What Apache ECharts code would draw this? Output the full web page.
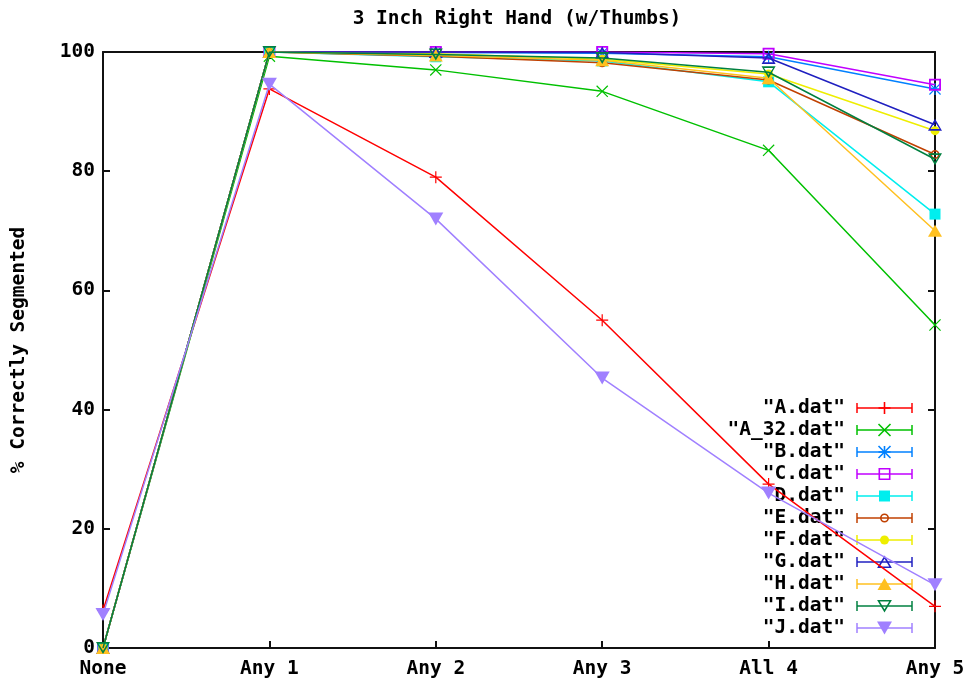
<!DOCTYPE html>
<html>
<head>
<meta charset="utf-8">
<script src="https://cdn.jsdelivr.net/npm/echarts@6/dist/echarts.min.js"></script>
<style>
  html, body { margin: 0; padding: 0; background: #fff; }
  #chart { width: 967px; height: 681px; }
</style>
</head>
<body>
<div id="chart"></div>
<script>
// Segmentation accuracy per selection rule, one data file per series
const categories = ['None', 'Any 1', 'Any 2', 'Any 3', 'All 4', 'Any 5'];
const yTicks = [0, 20, 40, 60, 80, 100];

const seriesNames = ['"A.dat"', '"A_32.dat"', '"B.dat"', '"C.dat"', '"D.dat"', '"E.dat"',
                     '"F.dat"', '"G.dat"', '"H.dat"', '"I.dat"', '"J.dat"'];

const valuesA   = [6.3, 93.8, 79.0, 55.0, 27.5, 7.0];
const valuesA32 = [0, 99.3, 97.0, 93.4, 83.5, 54.2];
const valuesB   = [0, 100, 99.9, 99.8, 99.2, 93.8];
const valuesC   = [0, 100, 100, 100, 99.7, 94.5];
const valuesD   = [0, 100, 99.2, 98.5, 95.0, 72.8];
const valuesE   = [0, 100, 99.3, 98.2, 95.3, 82.8];
const valuesF   = [0, 100, 99.7, 98.8, 96.3, 86.8];
const valuesG   = [0, 100, 100, 99.9, 99.0, 87.8];
const valuesH   = [0, 100, 99.4, 98.6, 95.6, 70.0];
const valuesI   = [0, 100, 99.6, 99.0, 96.6, 82.0];
const valuesJ   = [5.6, 94.6, 72.0, 45.3, 26.0, 10.6];

const seriesValues = [valuesA, valuesA32, valuesB, valuesC, valuesD, valuesE,
                      valuesF, valuesG, valuesH, valuesI, valuesJ];

// gnuplot-like palette
const colors = ['#ff0000', '#00c000', '#0080ff', '#c000ff', '#00eeee', '#c04000',
                '#eeee00', '#2020c0', '#ffc020', '#008040', '#a080ff'];

// point shapes: plus, cross, star, open/filled square, open/filled circle,
// open/filled triangle, open/filled inverted triangle
const PATHS = {
  plus:  'M0 9H20V11H0Z M9 0H11V20H9Z',
  cross: 'M0 1.4L1.4 0L20 18.6L18.6 20Z M18.6 0L20 1.4L1.4 20L0 18.6Z',
  star:  'M0 9H20V11H0Z M9 0H11V20H9Z M0 1.4L1.4 0L20 18.6L18.6 20Z M18.6 0L20 1.4L1.4 20L0 18.6Z',
  boxO:  'M0 0H20V20H0Z M3 3V17H17V3Z',
  boxF:  'M0 0H20V20H0Z',
  circO: 'M0 10A10 10 0 1 0 20 10A10 10 0 1 0 0 10Z M3.5 10A6.5 6.5 0 1 1 16.5 10A6.5 6.5 0 1 1 3.5 10Z',
  circF: 'M0 10A10 10 0 1 0 20 10A10 10 0 1 0 0 10Z',
  triO:  'M10 0L20 18H0Z M10 5L3.5 15.5H16.5Z',
  triF:  'M10 0L20 18H0Z',
  itriO: 'M0 0H20L10 18Z M3.5 2.5L10 13L16.5 2.5Z',
  itriF: 'M0 0H20L10 18Z'
};
const shapeKeys = ['plus', 'cross', 'star', 'boxO', 'boxF', 'circO', 'circF', 'triO', 'triF', 'itriO', 'itriF'];
const symbolSizes = [[12, 12], [12, 12], [12, 12], [12, 12], [11, 11], [9, 9], [9, 9],
                     [14, 12], [14, 12], [14, 12], [15, 13]];

const FONT = 'DejaVu Sans Mono';
const FS = 19.5;
const GRID = { left: 103, right: 32, top: 52, bottom: 33, outerBoundsMode: 'none', containLabel: false };

const series = seriesNames.map((name, i) => ({
  name: name,
  type: 'line',
  data: seriesValues[i],
  symbol: 'path://' + PATHS[shapeKeys[i]],
  symbolSize: symbolSizes[i],
  showSymbol: true,
  showAllSymbol: true,
  xAxisIndex: 0,
  yAxisIndex: 0,
  itemStyle: { color: colors[i] },
  lineStyle: { color: colors[i], width: 1.5 },
  emphasis: { disabled: true },
  z: 2 + i
}));

// point shape for the key, built from plain graphic primitives
function keyMarker(key, cx, cy, w, h, color) {
  const hw = w / 2, hh = h / 2;
  const strokeOnly = { fill: 'none', stroke: color, lineWidth: 1.6 };
  const filled = { fill: color };
  const seg = (x1, y1, x2, y2) => ({
    type: 'line', silent: true, z: 1,
    shape: { x1: x1, y1: y1, x2: x2, y2: y2 }, style: { stroke: color, lineWidth: 1.6 }
  });
  switch (key) {
    case 'plus':  return [seg(cx - hw, cy, cx + hw, cy), seg(cx, cy - hh, cx, cy + hh)];
    case 'cross': return [seg(cx - hw, cy - hh, cx + hw, cy + hh), seg(cx - hw, cy + hh, cx + hw, cy - hh)];
    case 'star':  return [seg(cx - hw, cy, cx + hw, cy), seg(cx, cy - hh, cx, cy + hh),
                          seg(cx - hw, cy - hh, cx + hw, cy + hh), seg(cx - hw, cy + hh, cx + hw, cy - hh)];
    case 'boxO':  return [{ type: 'rect', silent: true, z: 1, shape: { x: cx - hw + 0.8, y: cy - hh + 0.8, width: w - 1.6, height: h - 1.6 }, style: strokeOnly }];
    case 'boxF':  return [{ type: 'rect', silent: true, z: 1, shape: { x: cx - hw, y: cy - hh, width: w, height: h }, style: filled }];
    case 'circO': return [{ type: 'circle', silent: true, z: 1, shape: { cx: cx, cy: cy, r: hw - 0.8 }, style: strokeOnly }];
    case 'circF': return [{ type: 'circle', silent: true, z: 1, shape: { cx: cx, cy: cy, r: hw }, style: filled }];
    case 'triO':  return [{ type: 'polygon', silent: true, z: 1, shape: { points: [[cx, cy - hh + 1], [cx + hw - 1, cy + hh - 0.8], [cx - hw + 1, cy + hh - 0.8]] }, style: strokeOnly }];
    case 'triF':  return [{ type: 'polygon', silent: true, z: 1, shape: { points: [[cx, cy - hh], [cx + hw, cy + hh], [cx - hw, cy + hh]] }, style: filled }];
    case 'itriO': return [{ type: 'polygon', silent: true, z: 1, shape: { points: [[cx - hw + 1, cy - hh + 0.8], [cx + hw - 1, cy - hh + 0.8], [cx, cy + hh - 1]] }, style: strokeOnly }];
    case 'itriF': return [{ type: 'polygon', silent: true, z: 1, shape: { points: [[cx - hw, cy - hh], [cx + hw, cy - hh], [cx, cy + hh]] }, style: filled }];
  }
  return [];
}

// key box: label, sample line with end caps, point shape
const keyTop = 408, keyRowGap = 22, keyTextRight = 845, keyLineLeft = 857, keyLineRight = 912;
let keyGraphics = [];
seriesNames.forEach((name, i) => {
  const cy = keyTop + i * keyRowGap;
  const cx = (keyLineLeft + keyLineRight) / 2;
  const [w, h] = symbolSizes[i];
  keyGraphics.push(
    {
      type: 'text', x: keyTextRight, y: cy, silent: true, z: 1,
      style: { text: name, font: 'bold ' + FS + 'px "' + FONT + '"', fill: '#000',
               align: 'right', verticalAlign: 'middle' }
    },
    {
      type: 'line', silent: true, z: 1,
      shape: { x1: keyLineLeft, y1: cy, x2: keyLineRight, y2: cy },
      style: { stroke: colors[i], lineWidth: 1.5 }
    },
    {
      type: 'line', silent: true, z: 1,
      shape: { x1: keyLineLeft, y1: cy - 5, x2: keyLineLeft, y2: cy + 5 },
      style: { stroke: colors[i], lineWidth: 1.5 }
    },
    {
      type: 'line', silent: true, z: 1,
      shape: { x1: keyLineRight, y1: cy - 5, x2: keyLineRight, y2: cy + 5 },
      style: { stroke: colors[i], lineWidth: 1.5 }
    }
  );
  keyGraphics = keyGraphics.concat(keyMarker(shapeKeys[i], cx, cy, w, h, colors[i]));
});

const axisLineStyle = { color: '#111', width: 2 };

const chart = echarts.init(document.getElementById('chart'), null, { renderer: 'canvas' });
chart.setOption({
  animation: false,
  backgroundColor: '#ffffff',
  grid: GRID,
  graphic: [
    {
      type: 'text',
      x: 517, y: 19,
      style: {
        text: '3 Inch Right Hand (w/Thumbs)',
        font: 'bold ' + FS + 'px "' + FONT + '"',
        fill: '#000',
        align: 'center',
        verticalAlign: 'middle'
      }
    }
  ].concat(keyGraphics),
  xAxis: [
    {
      type: 'category',
      data: categories,
      boundaryGap: false,
      position: 'bottom',
      axisLine: { show: true, onZero: false, lineStyle: axisLineStyle },
      axisTick: { show: true, inside: true, length: 7, alignWithLabel: true, lineStyle: axisLineStyle },
      axisLabel: { margin: 11, fontFamily: FONT, fontWeight: 'bold', fontSize: FS, color: '#000' },
      splitLine: { show: false }
    },
    {
      type: 'category',
      data: categories,
      boundaryGap: false,
      position: 'top',
      axisLine: { show: true, onZero: false, lineStyle: axisLineStyle },
      axisTick: { show: true, inside: true, length: 7, lineStyle: axisLineStyle },
      axisLabel: { show: false },
      splitLine: { show: false }
    }
  ],
  yAxis: [
    {
      type: 'value',
      min: yTicks[0],
      max: yTicks[yTicks.length - 1],
      interval: yTicks[1] - yTicks[0],
      position: 'left',
      name: '% Correctly Segmented',
      nameLocation: 'middle',
      nameRotate: 90,
      nameGap: 74,
      nameTextStyle: { fontFamily: FONT, fontWeight: 'bold', fontSize: FS, color: '#000' },
      axisLine: { show: true, onZero: false, lineStyle: axisLineStyle },
      axisTick: { show: true, inside: true, length: 7, lineStyle: axisLineStyle },
      axisLabel: { margin: 8, fontFamily: FONT, fontWeight: 'bold', fontSize: FS, color: '#000' },
      splitLine: { show: false }
    },
    {
      type: 'value',
      min: yTicks[0],
      max: yTicks[yTicks.length - 1],
      interval: yTicks[1] - yTicks[0],
      position: 'right',
      axisLine: { show: true, onZero: false, lineStyle: axisLineStyle },
      axisTick: { show: true, inside: true, length: 7, lineStyle: axisLineStyle },
      axisLabel: { show: false },
      splitLine: { show: false }
    }
  ],
  series: series
});
</script>
</body>
</html>
